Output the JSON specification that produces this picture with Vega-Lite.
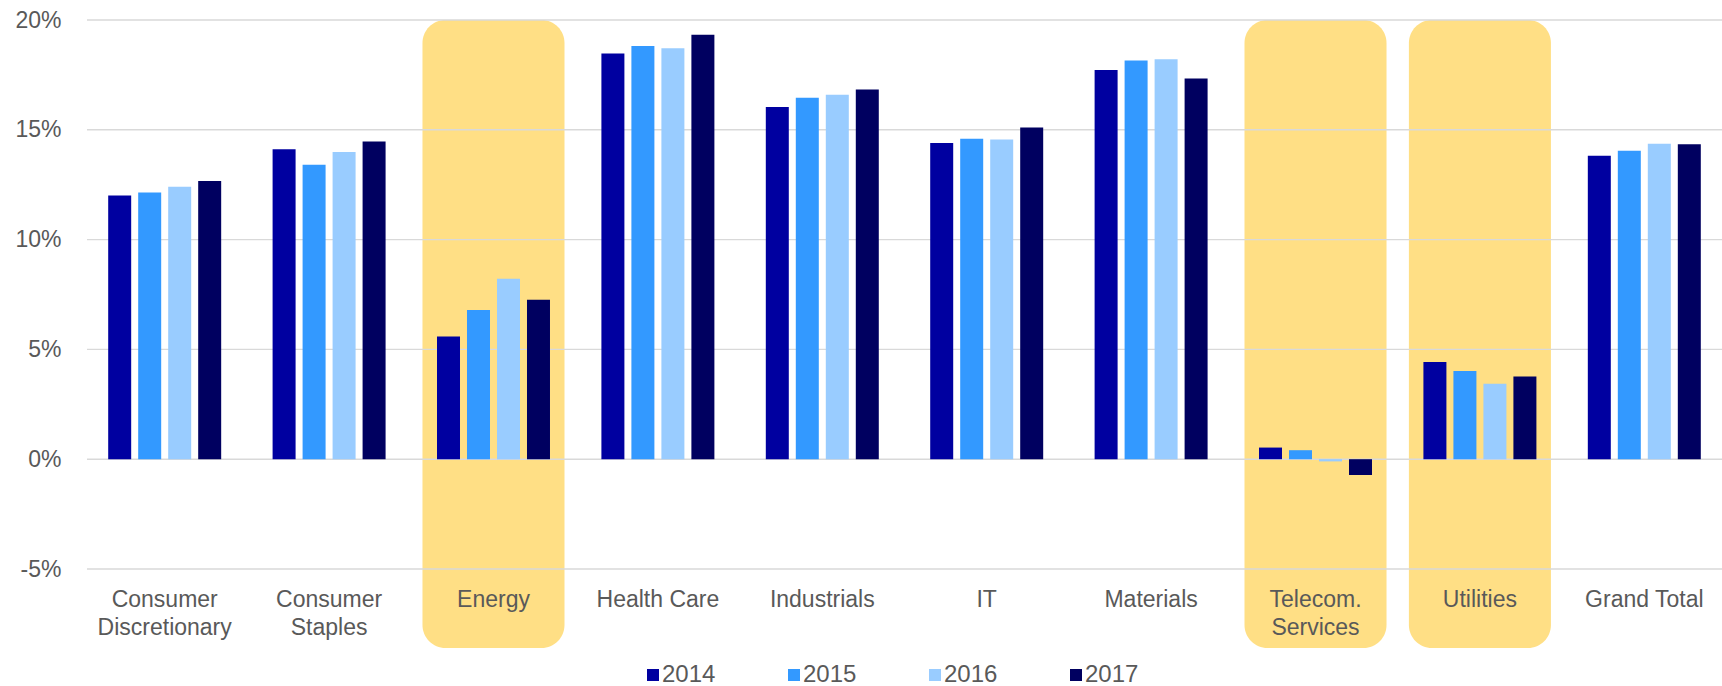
{
  "$schema": "https://vega.github.io/schema/vega-lite/v6.json",
  "autosize": {"type": "none"},
  "padding": {"left": 87, "top": 20, "right": 0, "bottom": 117},
  "width": 1635,
  "height": 549,
  "background": "white",
  "config": {
    "font": "Liberation Sans",
    "view": {"stroke": null},
    "axis": {"labelColor": "#595959", "labelFontSize": 23, "labelFont": "Liberation Sans"},
    "legend": {"labelColor": "#595959", "labelFontSize": 24, "labelFont": "Liberation Sans"}
  },
  "datasets": {
    "bars": [
      {"category": "Consumer Discretionary", "year": "2014", "value": 12.01},
      {"category": "Consumer Discretionary", "year": "2015", "value": 12.14},
      {"category": "Consumer Discretionary", "year": "2016", "value": 12.41},
      {"category": "Consumer Discretionary", "year": "2017", "value": 12.67},
      {"category": "Consumer Staples", "year": "2014", "value": 14.11},
      {"category": "Consumer Staples", "year": "2015", "value": 13.41},
      {"category": "Consumer Staples", "year": "2016", "value": 13.99},
      {"category": "Consumer Staples", "year": "2017", "value": 14.47},
      {"category": "Energy", "year": "2014", "value": 5.59},
      {"category": "Energy", "year": "2015", "value": 6.79},
      {"category": "Energy", "year": "2016", "value": 8.22},
      {"category": "Energy", "year": "2017", "value": 7.26},
      {"category": "Health Care", "year": "2014", "value": 18.47},
      {"category": "Health Care", "year": "2015", "value": 18.82},
      {"category": "Health Care", "year": "2016", "value": 18.71},
      {"category": "Health Care", "year": "2017", "value": 19.33},
      {"category": "Industrials", "year": "2014", "value": 16.04},
      {"category": "Industrials", "year": "2015", "value": 16.46},
      {"category": "Industrials", "year": "2016", "value": 16.6},
      {"category": "Industrials", "year": "2017", "value": 16.83},
      {"category": "IT", "year": "2014", "value": 14.4},
      {"category": "IT", "year": "2015", "value": 14.59},
      {"category": "IT", "year": "2016", "value": 14.56},
      {"category": "IT", "year": "2017", "value": 15.11},
      {"category": "Materials", "year": "2014", "value": 17.72},
      {"category": "Materials", "year": "2015", "value": 18.16},
      {"category": "Materials", "year": "2016", "value": 18.21},
      {"category": "Materials", "year": "2017", "value": 17.34},
      {"category": "Telecom. Services", "year": "2014", "value": 0.53},
      {"category": "Telecom. Services", "year": "2015", "value": 0.41},
      {"category": "Telecom. Services", "year": "2016", "value": -0.1},
      {"category": "Telecom. Services", "year": "2017", "value": -0.72},
      {"category": "Utilities", "year": "2014", "value": 4.43},
      {"category": "Utilities", "year": "2015", "value": 4.02},
      {"category": "Utilities", "year": "2016", "value": 3.44},
      {"category": "Utilities", "year": "2017", "value": 3.77},
      {"category": "Grand Total", "year": "2014", "value": 13.82},
      {"category": "Grand Total", "year": "2015", "value": 14.05},
      {"category": "Grand Total", "year": "2016", "value": 14.37},
      {"category": "Grand Total", "year": "2017", "value": 14.34}
    ],
    "highlights": [
      {"category": "Energy", "top": 20, "bottom": -8.6},
      {"category": "Telecom. Services", "top": 20, "bottom": -8.6},
      {"category": "Utilities", "top": 20, "bottom": -8.6}
    ],
    "grid": [
      {"level": -5}, {"level": 0}, {"level": 5}, {"level": 10}, {"level": 15}, {"level": 20}
    ]
  },
  "layer": [
    {
      "data": {"name": "highlights"},
      "mark": {"type": "bar", "color": "#FFDF85", "cornerRadius": 23, "width": {"band": 1.257}},
      "encoding": {
        "x": {
          "field": "category", "type": "nominal", "sort": null,
          "scale": {"domain": ["Consumer Discretionary", "Consumer Staples", "Energy", "Health Care", "Industrials", "IT", "Materials", "Telecom. Services", "Utilities", "Grand Total"], "paddingInner": 0.3127, "paddingOuter": 0.1289},
          "axis": {
            "title": null, "labelAngle": 0, "domain": false, "ticks": false, "grid": false,
            "labelPadding": 19, "labelLineHeight": 28, "labelBaseline": "top", "zindex": 1,
            "labelExpr": "datum.label == 'Consumer Discretionary' ? ['Consumer', 'Discretionary'] : datum.label == 'Consumer Staples' ? ['Consumer', 'Staples'] : datum.label == 'Telecom. Services' ? ['Telecom.', 'Services'] : datum.label"
          }
        },
        "y": {
          "field": "top", "type": "quantitative",
          "scale": {"domain": [-5, 20], "nice": false, "zero": false},
          "axis": {
            "title": null, "values": [-5, 0, 5, 10, 15, 20], "grid": false, "domain": false, "ticks": false,
            "labelPadding": 26, "labelExpr": "datum.value + '%'"
          }
        },
        "y2": {"field": "bottom"}
      }
    },
    {
      "data": {"name": "grid"},
      "mark": {"type": "rule", "color": "#D9D9D9", "strokeWidth": 1.4},
      "encoding": {
        "y": {"field": "level", "type": "quantitative", "scale": {"domain": [-5, 20], "nice": false, "zero": false}}
      }
    },
    {
      "data": {"name": "bars"},
      "mark": {"type": "bar"},
      "encoding": {
        "x": {"field": "category", "type": "nominal", "sort": null},
        "xOffset": {"field": "year", "type": "nominal", "scale": {"paddingInner": 0.2333, "paddingOuter": 0}},
        "y": {"field": "value", "type": "quantitative", "scale": {"domain": [-5, 20], "nice": false, "zero": false}},
        "color": {
          "field": "year", "type": "nominal",
          "scale": {"domain": ["2014", "2015", "2016", "2017"], "range": ["#0000A0", "#3399FF", "#99CCFF", "#000060"]},
          "legend": {
            "title": null, "orient": "none", "legendX": 554, "legendY": 643, "direction": "horizontal",
            "symbolType": "square", "symbolSize": 144, "symbolStrokeWidth": 0, "labelOffset": -3,
            "columnPadding": 66, "padding": 0
          }
        }
      }
    }
  ]
}
